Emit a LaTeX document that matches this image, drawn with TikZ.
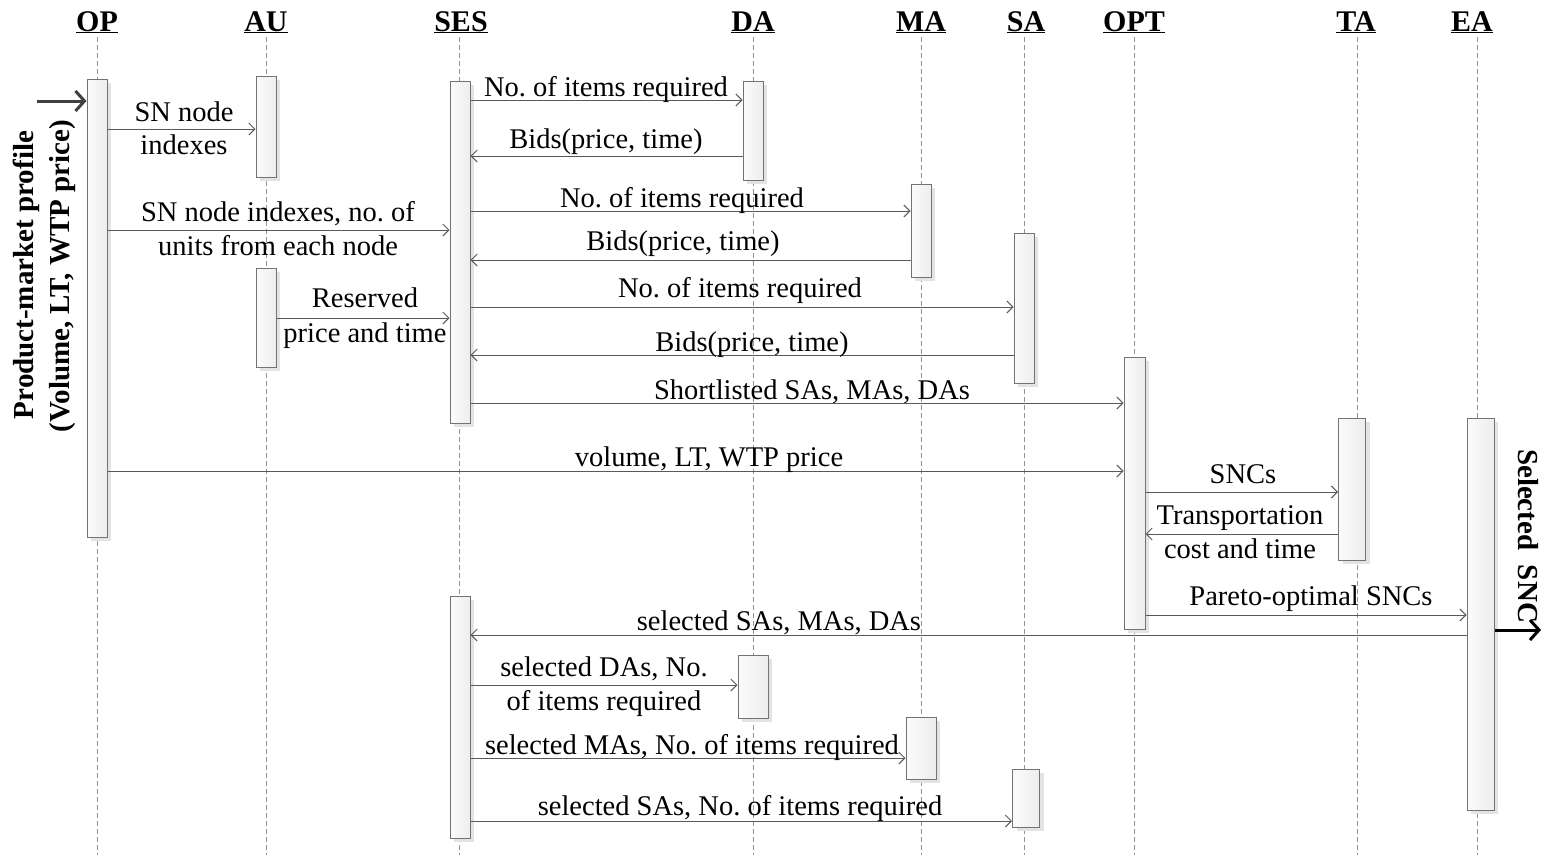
\documentclass[tikz,border=0pt]{standalone}
\usepackage{fontspec}
\setmainfont{Liberation Serif}
\usetikzlibrary{arrows.meta,shadows}
\frenchspacing
\begin{document}
\begin{tikzpicture}[x=1pt,y=-1pt,
  lbl/.style={anchor=base,inner sep=0pt,font=\fontsize{28.5}{33}\selectfont},
  hdr/.style={anchor=base,inner sep=0pt,font=\fontsize{30}{34}\selectfont\bfseries},
  side/.style={inner sep=0pt,font=\fontsize{29}{34}\selectfont\bfseries},
  life/.style={draw=gray!85, dash pattern=on 5pt off 3pt, line width=0.8pt},
  act/.style={draw=gray!90!black, line width=1pt, left color=gray!3, right color=gray!14,
              inner sep=0pt, minimum width=#1,
              drop shadow={shadow xshift=4pt, shadow yshift=-4pt, fill=gray!22, opacity=1}},
  act/.default=20,
  msg/.style={draw=black!65, line width=1pt, -{Straight Barb[length=6pt,width=12pt]}},
  bigmsg/.style={line width=3pt, -{Straight Barb[length=9pt,width=20pt,line width=3pt]}},
]
\useasboundingbox (0,0) rectangle (1543,855);

% lifeline headers
\node[hdr] (hOP)  at (97,31)   {\underline{OP}};
\node[hdr] (hAU)  at (266,31)  {\underline{AU}};
\node[hdr] (hSES) at (461,31)  {\underline{SES}};
\node[hdr] (hDA)  at (753,31)  {\underline{DA}};
\node[hdr] (hMA)  at (921,31)  {\underline{MA}};
\node[hdr] (hSA)  at (1026,31) {\underline{SA}};
\node[hdr] (hOPT) at (1134,31) {\underline{OPT}};
\node[hdr] (hTA)  at (1356,31) {\underline{TA}};
\node[hdr] (hEA)  at (1472,31) {\underline{EA}};

% dashed lifelines
\foreach \x in {97,266,459,753,921,1024,1134,1357,1477}
  \draw[life] (\x,37) -- (\x,855);

% activation bars
\node[act,minimum height=458] (op)   at (97,308)    {};
\node[act,minimum height=101] (au1)  at (266,126.5) {};
\node[act,minimum height=99]  (au2)  at (266,317.5) {};
\node[act,minimum height=342] (ses1) at (460,252)   {};
\node[act,minimum height=99]  (da1)  at (753,130.5) {};
\node[act,minimum height=93]  (ma1)  at (921,230.5) {};
\node[act,minimum height=150] (sa1)  at (1024,308)  {};
\node[act=21,minimum height=272] (opt) at (1134.5,493) {};
\node[act=27,minimum height=142] (ta)  at (1352,489)   {};
\node[act=27,minimum height=392] (ea)  at (1480.5,614) {};
\node[act,minimum height=242] (ses2) at (460,717)   {};
\node[act=30,minimum height=63] (da2) at (753,686.5) {};
\node[act=30,minimum height=62] (ma2) at (921,748)   {};
\node[act=27,minimum height=58] (sa2) at (1026,798)  {};

% messages
\draw[msg] (op.east |- 0,129)   -- (au1.west |- 0,129);
\draw[msg] (ses1.east |- 0,100) -- (da1.west |- 0,100);
\draw[msg] (da1.west |- 0,156)  -- (ses1.east |- 0,156);
\draw[msg] (ses1.east |- 0,211) -- (ma1.west |- 0,211);
\draw[msg] (op.east |- 0,230)   -- (ses1.west |- 0,230);
\draw[msg] (ma1.west |- 0,260)  -- (ses1.east |- 0,260);
\draw[msg] (ses1.east |- 0,307) -- (sa1.west |- 0,307);
\draw[msg] (au2.east |- 0,318)  -- (ses1.west |- 0,318);
\draw[msg] (sa1.west |- 0,355)  -- (ses1.east |- 0,355);
\draw[msg] (ses1.east |- 0,403) -- (opt.west |- 0,403);
\draw[msg] (op.east |- 0,471)   -- (opt.west |- 0,471);
\draw[msg] (opt.east |- 0,492)  -- (ta.west |- 0,492);
\draw[msg] (ta.west |- 0,534)   -- (opt.east |- 0,534);
\draw[msg] (opt.east |- 0,615)  -- (ea.west |- 0,615);
\draw[msg] (ea.west |- 0,635)   -- (ses2.east |- 0,635);
\draw[msg] (ses2.east |- 0,685) -- (da2.west |- 0,685);
\draw[msg] (ses2.east |- 0,758) -- (ma2.west |- 0,758);
\draw[msg] (ses2.east |- 0,821) -- (sa2.west |- 0,821);

% message labels
\node[lbl] (l1a) at (184,121) {SN node};
\node[lbl] (l1b) at (184,154) {indexes};
\node[lbl] (l2)  at (606,96)  {No. of items required};
\node[lbl] (l3)  at (606,148) {Bids(price, time)};
\node[lbl] (l4)  at (682,207) {No. of items required};
\node[lbl] (l5a) at (278,221) {SN node indexes, no. of};
\node[lbl] (l5b) at (278,255) {units from each node};
\node[lbl] (l6)  at (683,250) {Bids(price, time)};
\node[lbl] (l7a) at (365,307) {Reserved};
\node[lbl] (l7b) at (365,342) {price and time};
\node[lbl] (l8)  at (740,297) {No. of items required};
\node[lbl] (l9)  at (752,351) {Bids(price, time)};
\node[lbl] (l10) at (812,399) {Shortlisted SAs, MAs, DAs};
\node[lbl] (l11) at (709,466) {volume, LT, WTP price};
\node[lbl] (l12) at (1243,483) {SNCs};
\node[lbl] (l13a) at (1240,524) {Transportation};
\node[lbl] (l13b) at (1240,558) {cost and time};
\node[lbl] (l14) at (1311,605) {Pareto-optimal SNCs};
\node[lbl] (l15) at (779,630) {selected SAs, MAs, DAs};
\node[lbl] (l16a) at (604,676) {selected DAs, No.};
\node[lbl] (l16b) at (604,710) {of items required};
\node[lbl] (l17) at (692,754) {selected MAs, No. of items required};
\node[lbl] (l18) at (740,815) {selected SAs, No. of items required};

% incoming (found) message on the left
\coordinate (fin) at (37,101);
\draw[bigmsg, draw=black!75] (fin) -- (op.west |- fin);
\node[side,rotate=90] (pm1) at (26,275) {Product-market profile};
\node[side,rotate=90] (pm2) at (63,276) {(Volume, LT, WTP price)};

% outgoing (lost) message on the right
\coordinate (fout) at (1541,630);
\draw[bigmsg, draw=black] (ea.east |- fout) -- (fout);
\node[side,rotate=-90] (sel) at (1528,536) {Selected~~SNC};

\end{tikzpicture}
\end{document}
